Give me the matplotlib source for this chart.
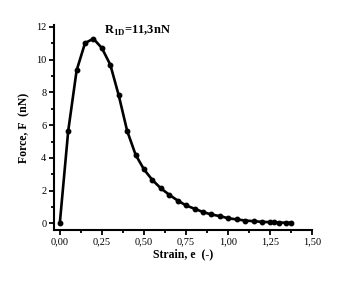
import matplotlib as mpl
mpl.use('Agg')
import matplotlib.pyplot as plt
from matplotlib.ticker import MultipleLocator, FuncFormatter

mpl.rcParams['font.family'] = ['Liberation Serif', 'DejaVu Serif']
mpl.rcParams['mathtext.fontset'] = 'custom'
mpl.rcParams['mathtext.rm'] = 'Liberation Serif'
mpl.rcParams['mathtext.bf'] = 'Liberation Serif:bold'

# strain / force
strain = [0.00, 0.05, 0.10, 0.15, 0.20, 0.25, 0.30, 0.35, 0.40, 0.45,
          0.50, 0.55, 0.60, 0.65, 0.70, 0.75, 0.80, 0.85, 0.90, 0.95,
          1.00, 1.05, 1.10, 1.15, 1.20, 1.25, 1.27, 1.30, 1.34, 1.37]
force = [0.00, 5.65, 9.35, 11.02, 11.28, 10.71, 9.69, 7.82, 5.65, 4.20,
         3.30, 2.65, 2.15, 1.75, 1.40, 1.10, 0.90, 0.70, 0.55, 0.45,
         0.32, 0.25, 0.18, 0.14, 0.10, 0.08, 0.07, 0.06, 0.05, 0.05]

fig = plt.figure(figsize=(3.4, 2.84), dpi=100)
ax = fig.add_axes([0.159, 0.190, 0.762, 0.722])

ax.plot(strain, force, color='k', lw=1.9, marker='o', ms=3.2)

ax.set_xlim(-0.034, 1.504)
ax.set_ylim(-0.4, 12.12)
ax.spines['top'].set_visible(False)
ax.spines['right'].set_visible(False)
for s in ['left', 'bottom']:
    ax.spines[s].set_linewidth(1.5)
ax.spines['bottom'].set_bounds(-0.034, 1.5)

ax.xaxis.set_major_locator(MultipleLocator(0.25))
ax.xaxis.set_minor_locator(MultipleLocator(0.125))
ax.yaxis.set_major_locator(MultipleLocator(2))
ax.yaxis.set_minor_locator(MultipleLocator(1))
ax.xaxis.set_major_formatter(FuncFormatter(lambda v, p: ('%.2f' % v).replace('.', ',')))
ax.tick_params(which='major', direction='out', length=3.5, width=1.3, labelsize=7.5, pad=2)
ax.tick_params(which='minor', direction='out', length=2, width=1.3)

ax.set_xlabel('Strain, e  (-)', fontsize=8.5, fontweight='bold', labelpad=1)
ax.set_ylabel('Force, F  (nN)', fontsize=8.5, fontweight='bold', labelpad=4)

ax.text(0.26, 11.55, r'R$_{\mathbf{1D}}$=11,3nN', fontsize=9, fontweight='bold')

fig.savefig('out.png', dpi=100)
